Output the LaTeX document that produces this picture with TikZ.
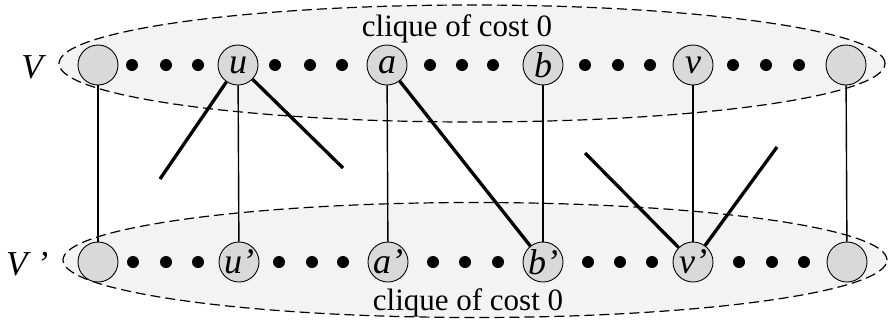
\documentclass[tikz,border=0pt]{standalone}
\usepackage{fontspec}
\setmainfont{Liberation Serif}
\definecolor{ellfill}{RGB}{243,243,243}
\definecolor{nodefill}{RGB}{217,217,217}
\begin{document}
\begin{tikzpicture}[x=1pt,y=-1pt,
 vert/.style={circle,draw=black,line width=0.9pt,fill=nodefill,minimum size=40pt,inner sep=0pt,font=\fontsize{36}{36}\selectfont\itshape},
 clique/.style={draw=black,dash pattern=on 10pt off 5pt,line width=1.2pt,fill=ellfill},
 thinedge/.style={line width=1.4pt},
 thickedge/.style={line width=3.3pt},
 lab/.style={font=\fontsize{35}{35}\selectfont\itshape},
 cl/.style={font=\fontsize{31}{31}\selectfont}]
\useasboundingbox (0,0) rectangle (888,327);
% ellipses
\path[clique] (472,63.5) ellipse [x radius=413pt, y radius=58.5pt];
\path[clique] (475,260) ellipse [x radius=412pt, y radius=57.5pt];
% labels
\node[cl,anchor=base] (ctop) at (457,36) {clique of cost 0};
\node[cl,anchor=base] (cbot) at (468,310) {clique of cost 0};
\node[lab,anchor=base] (lV) at (32,78) {V};
\node[lab,anchor=base west,inner sep=0pt] (lVp) at (6,275) {V\hspace{9pt}'};
% top row
\node[vert] (t0) at (98,65) {};
\node[vert] (u) at (238,65) {u};
\node[vert] (a) at (387,65) {a};
\node[vert] (b) at (543,65) {b};
\node[vert] (v) at (693,65) {v};
\node[vert] (t5) at (846,65) {};
% bottom row
\node[vert] (s0) at (98,262) {};
\node[vert] (up) at (239,262) {u'};
\node[vert] (ap) at (388,262) {a'};
\node[vert] (bp) at (543,262) {b'};
\node[vert] (vp) at (693,262) {v'};
\node[vert] (s5) at (847,262) {};
% dots
\foreach \x in {132,166,198,275,310,342,430,462,493,585,618,650,733,766,799}
  \fill (\x,65) circle (6pt);
\foreach \x in {133,166,198,279,312,343,433,465,498,588,620,652,739,772,804}
  \fill (\x,262) circle (6pt);
% free ends
\coordinate (ul) at (160,179);
\coordinate (ur) at (343,168);
\coordinate (vl) at (585,153);
\coordinate (vr) at (777,147);
% thin vertical edges
\draw[thinedge] (t0) -- (s0);
\draw[thinedge] (u) -- (up);
\draw[thinedge] (a) -- (ap);
\draw[thinedge] (b) -- (bp);
\draw[thinedge] (v) -- (vp);
\draw[thinedge] (t5) -- (s5);
% thick edges
\draw[thickedge] (u) -- (ul);
\draw[thickedge] (u) -- (ur);
\draw[thickedge] (a) -- (bp);
\draw[thickedge] (vp) -- (vl);
\draw[thickedge] (vp) -- (vr);
\end{tikzpicture}
\end{document}
